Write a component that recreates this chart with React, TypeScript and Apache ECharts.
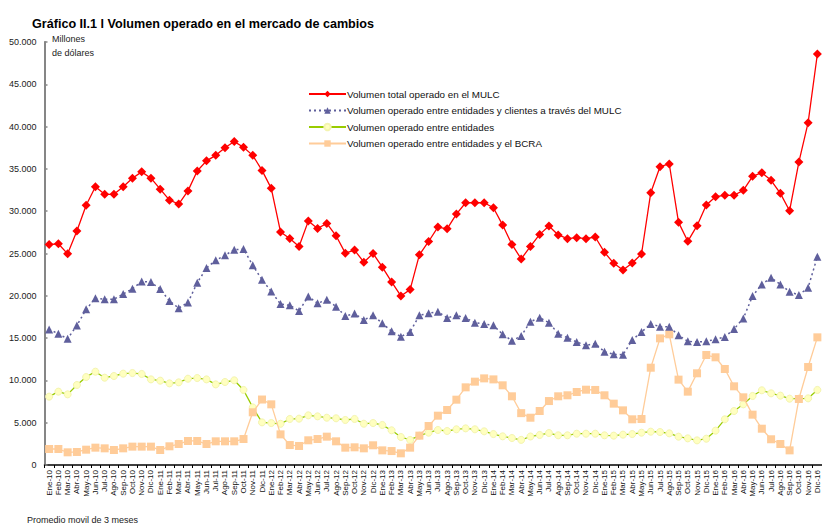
import React, { useEffect, useRef } from "react";
import * as echarts from "echarts";

const categories = [
  "Ene-10","Feb-10","Mar-10","Abr-10","May-10","Jun-10","Jul-10","Ago-10","Sep-10","Oct-10","Nov-10","Dic-10",
  "Ene-11","Feb-11","Mar-11","Abr-11","May-11","Jun-11","Jul-11","Ago-11","Sep-11","Oct-11","Nov-11","Dic-11",
  "Ene-12","Feb-12","Mar-12","Abr-12","May-12","Jun-12","Jul-12","Ago-12","Sep-12","Oct-12","Nov-12","Dic-12",
  "Ene-13","Feb-13","Mar-13","Abr-13","May-13","Jun-13","Jul-13","Ago-13","Sep-13","Oct-13","Nov-13","Dic-13",
  "Ene-14","Feb-14","Mar-14","Abr-14","May-14","Jun-14","Jul-14","Ago-14","Sep-14","Oct-14","Nov-14","Dic-14",
  "Ene-15","Feb-15","Mar-15","Abr-15","May-15","Jun-15","Jul-15","Ago-15","Sep-15","Oct-15","Nov-15","Dic-15",
  "Ene-16","Feb-16","Mar-16","Abr-16","May-16","Jun-16","Jul-16","Ago-16","Sep-16","Oct-16","Nov-16","Dic-16",
];

const totalMULC = [
  26050, 26150, 24960, 27650, 30700, 32900, 32000, 32000, 32900, 33900, 34650, 33900,
  32600, 31300, 30850, 32400, 34750, 35950, 36600, 37500, 38230, 37560, 36600, 34820,
  32700, 27550, 26780, 25830, 28830, 27960, 28560, 27090, 25040, 25400, 23970, 25000,
  23380, 21640, 19980, 20730, 24840, 26420, 28120, 27920, 29660, 31000, 31000, 31000,
  30410, 28360, 26070, 24360, 25830, 27260, 28250, 27190, 26750, 26870, 26750, 26950,
  25140, 23840, 23050, 23880, 24940, 32190, 35260, 35580, 28680, 26440, 28290, 30730,
  31720, 31880, 31880, 32470, 34120, 34550, 33650, 32110, 30060, 35810, 40460, 48580,
];

const clientesMULC = [
  16030, 15510, 14920, 16500, 18400, 19720, 19600, 19600, 20200, 20830, 21700, 21620,
  20790, 19400, 18540, 19210, 21540, 23280, 24190, 24780, 25450, 25530, 23600, 21900,
  20510, 19020, 18880, 18210, 19920, 19120, 19520, 18720, 17600, 17900, 17140, 17690,
  16750, 15800, 15170, 15720, 17690, 17930, 18120, 17380, 17690, 17380, 16820, 16670,
  16510, 15450, 14690, 15250, 16940, 17410, 16820, 15520, 15050, 14540, 14150, 14340,
  13390, 13080, 13040, 14780, 15720, 16670, 16350, 16350, 15330, 14620, 14540, 14620,
  14850, 15130, 16080, 17330, 19980, 21350, 22140, 21350, 20490, 20090, 20960, 24630,
];

const entreEntidades = [
  8080, 8670, 8350, 9460, 10400, 11030, 10320, 10520, 10800, 10870, 10760, 10120,
  9970, 9650, 9770, 10200, 10280, 10120, 9530, 9810, 10010, 8870, 6810, 5040,
  4960, 4870, 5440, 5480, 5870, 5750, 5590, 5520, 5320, 5440, 4880, 4960,
  4730, 4100, 3310, 2960, 3470, 3820, 4140, 4020, 4220, 4330, 4220, 3980,
  3660, 3390, 3190, 2970, 3370, 3550, 3780, 3510, 3510, 3700, 3700, 3700,
  3510, 3470, 3590, 3660, 3820, 3940, 3900, 3740, 3350, 3150, 2910, 3110,
  4060, 5400, 6380, 7170, 8160, 8830, 8470, 8200, 7840, 7840, 7880, 8870,
];

const entidadesBCRA = [
  1890, 1890, 1500, 1540, 1810, 2050, 1970, 1770, 1970, 2170, 2170, 2170,
  1770, 2210, 2480, 2840, 2840, 2480, 2800, 2800, 2800, 3070, 6230, 7740,
  7170, 3620, 2360, 2250, 2920, 3070, 3350, 2800, 2050, 2090, 1970, 2330,
  1730, 1650, 1380, 2050, 3470, 4610, 5830, 6500, 7720, 9180, 9850, 10240,
  10120, 9420, 8120, 6130, 5590, 6380, 7560, 8120, 8240, 8630, 8900, 8870,
  8240, 7250, 6460, 5400, 5440, 11500, 14970, 15450, 10090, 8670, 10840, 13000,
  12730, 11350, 9300, 8000, 5950, 4290, 3040, 2480, 1730, 7800, 11580, 15090,
];

const seriesNames = [
  "Volumen total operado en el MULC",
  "Volumen operado entre entidades y clientes a través del MULC",
  "Volumen operado entre entidades",
  "Volumen operado entre entidades y el BCRA",
];

const FONT = "'Liberation Sans', Arial, sans-serif";

function fmt(v: number): string {
  if (v === 0) return "0";
  const s = String(Math.round(v));
  return s.replace(/\B(?=(\d{3})+(?!\d))/g, ".");
}

export default function App() {
  const ref = useRef<HTMLDivElement>(null);
  useEffect(() => {
    if (!ref.current) return;
    const chart = echarts.init(ref.current, null, { renderer: "svg" });
    chart.setOption({
      animation: false,
      backgroundColor: "#ffffff",
      title: {
        text: "Gráfico II.1 l Volumen operado en el mercado de cambios",
        left: 27,
        top: 12,
        textStyle: { fontFamily: FONT, fontSize: 12.6, fontWeight: "bold", color: "#000" },
      },
      graphic: [
        {
          type: "text",
          left: 52,
          top: 32,
          style: { text: "Millones\nde dólares", font: `9px ${FONT}`, lineHeight: 14, fill: "#222" },
        },
        {
          type: "text",
          left: 27,
          top: 515,
          style: { text: "Promedio movil de 3 meses", font: `9px ${FONT}`, fill: "#222" },
        },
      ],
      legend: {
        orient: "vertical",
        left: 303,
        top: 84,
        itemWidth: 37,
        itemHeight: 8,
        itemGap: 6.5,
        textStyle: { fontFamily: FONT, fontSize: 9.8, color: "#111", padding: [0, 0, 0, -4] },
        data: seriesNames,
      },
      grid: { left: 44.5, right: -3.5, top: 42, bottom: 59, containLabel: false },
      xAxis: {
        type: "category",
        data: categories,
        boundaryGap: true,
        axisLine: { show: true, lineStyle: { color: "#000", width: 1.5 } },
        axisTick: { show: true, interval: 0, length: 3, lineStyle: { color: "#000" } },
        axisLabel: {
          interval: 0,
          rotate: 90,
          fontSize: 8,
          fontFamily: FONT,
          color: "#111",
          margin: 5,
        },
        splitLine: { show: false },
      },
      yAxis: {
        type: "value",
        min: 0,
        max: 50000,
        interval: 5000,
        axisLine: { show: true, lineStyle: { color: "#868686", width: 2 } },
        axisTick: { show: true, inside: true, length: 3, lineStyle: { color: "#868686", width: 1.5 } },
        axisLabel: { formatter: fmt, fontSize: 9, fontFamily: FONT, color: "#222", margin: 8 },
        splitLine: { show: false },
      },
      series: [
        {
          name: seriesNames[0],
          type: "line",
          data: totalMULC,
          symbol: "diamond",
          symbolSize: 9,
          lineStyle: { color: "#ff0000", width: 1.3 },
          itemStyle: { color: "#ff0000" },
          z: 5,
        },
        {
          name: seriesNames[1],
          type: "line",
          data: clientesMULC,
          symbol: "triangle",
          symbolSize: 8,
          lineStyle: { color: "#5f5f9c", width: 1.5, type: [2, 3] },
          itemStyle: { color: "#5f5f9c" },
          z: 4,
        },
        {
          name: seriesNames[2],
          type: "line",
          data: entreEntidades,
          symbol: "circle",
          symbolSize: 7,
          lineStyle: { color: "#99cc00", width: 1.3 },
          itemStyle: { color: "#ffffc0", borderColor: "#f4f4b0", borderWidth: 1 },
          z: 2,
        },
        {
          name: seriesNames[3],
          type: "line",
          data: entidadesBCRA,
          symbol: "rect",
          symbolSize: 8,
          lineStyle: { color: "#ffcc99", width: 1.3 },
          itemStyle: { color: "#ffcc99" },
          z: 3,
        },
      ],
    });
    return () => chart.dispose();
  }, []);
  return (
    <div
      ref={ref}
      style={{ position: "fixed", left: 0, top: 0, width: 822, height: 524, background: "#fff" }}
    />
  );
}
